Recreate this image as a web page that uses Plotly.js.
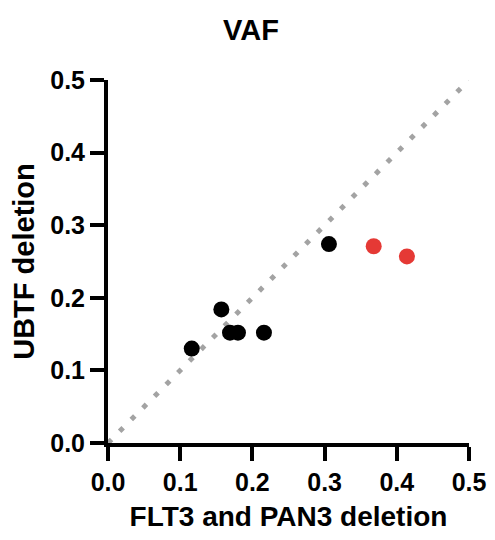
<!DOCTYPE html>
<html>
<head>
<meta charset="utf-8">
<script src="https://cdn.plot.ly/plotly-3.0.1.min.js"></script>
<style>html,body{margin:0;padding:0;background:#fff;}#chart{width:495px;height:540px;}</style>
</head>
<body>
<div id="chart"></div>
<script>
// Black points
const blackX = [0.116, 0.157, 0.169, 0.180, 0.216, 0.306];
const blackY = [0.130, 0.184, 0.152, 0.152, 0.152, 0.274];
// Red points
const redX = [0.368, 0.414];
const redY = [0.271, 0.257];
// Identity reference line
const refX = [0, 0.5];
const refY = [0, 0.5];
const tickVals = [0, 0.1, 0.2, 0.3, 0.4, 0.5];
const tickText = ['0.0', '0.1', '0.2', '0.3', '0.4', '0.5'];

const font = 'Liberation Sans, Arial, sans-serif';

const traces = [
  {x: refX, y: refY, mode: 'lines', line: {color: '#a3a3a3', width: 5, dash: '5px,11.5px'}, hoverinfo: 'skip', cliponaxis: false},
  {x: blackX, y: blackY, mode: 'markers', marker: {color: '#000000', size: 16}, cliponaxis: false},
  {x: redX, y: redY, mode: 'markers', marker: {color: '#e53935', size: 16}, cliponaxis: false}
];

const axisCommon = {
  range: [0, 0.5],
  tickvals: tickVals,
  ticktext: tickText,
  showgrid: false,
  zeroline: false,
  showline: true,
  linecolor: '#000',
  linewidth: 4,
  ticks: 'outside',
  ticklen: 14,
  tickwidth: 4,
  tickcolor: '#000',
  tickfont: {family: font, size: 25, color: '#000', weight: 'bold'}
};

const layout = {
  width: 495,
  height: 540,
  margin: {l: 108, r: 26, t: 80, b: 97},
  paper_bgcolor: '#fff',
  plot_bgcolor: '#fff',
  showlegend: false,
  title: {text: '<b>VAF</b>', font: {family: font, size: 29, color: '#000'}, x: 0.507, xanchor: 'center', y: 0.945, yanchor: 'middle'},
  xaxis: Object.assign({}, axisCommon, {
    title: {text: '<b>FLT3 and PAN3 deletion</b>', font: {family: font, size: 28, color: '#000'}, standoff: 12}
  }),
  yaxis: Object.assign({}, axisCommon, {
    title: {text: '<b>UBTF deletion</b>', font: {family: font, size: 29, color: '#000'}, standoff: 8}
  })
};

Plotly.newPlot('chart', traces, layout, {displayModeBar: false, staticPlot: true});
</script>
</body>
</html>
